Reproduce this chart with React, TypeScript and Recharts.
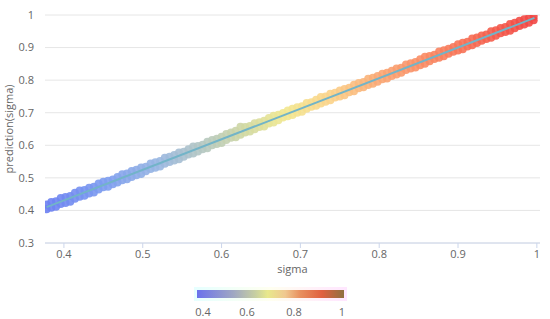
import React from 'react';
import { ScatterChart, Scatter, XAxis, YAxis, CartesianGrid } from 'recharts';

// sigma values (x)
const sigma = [
  0.378, 0.384, 0.390, 0.396, 0.402, 0.408, 0.414, 0.420, 0.426, 0.432,
  0.438, 0.444, 0.450, 0.456, 0.462, 0.468, 0.474, 0.480, 0.486, 0.492,
  0.498, 0.504, 0.510, 0.516, 0.522, 0.528, 0.534, 0.540, 0.546, 0.552,
  0.558, 0.564, 0.570, 0.576, 0.582, 0.588, 0.594, 0.600, 0.606, 0.612,
  0.618, 0.624, 0.630, 0.636, 0.642, 0.648, 0.654, 0.660, 0.666, 0.672,
  0.678, 0.684, 0.690, 0.696, 0.702, 0.708, 0.714, 0.720, 0.726, 0.732,
  0.738, 0.744, 0.750, 0.756, 0.762, 0.768, 0.774, 0.780, 0.786, 0.792,
  0.798, 0.804, 0.810, 0.816, 0.822, 0.828, 0.834, 0.840, 0.846, 0.852,
  0.858, 0.864, 0.870, 0.876, 0.882, 0.888, 0.894, 0.900, 0.906, 0.912,
  0.918, 0.924, 0.930, 0.936, 0.942, 0.948, 0.954, 0.960, 0.966, 0.972,
  0.978, 0.984, 0.990, 0.996,
];

// upper edge of the band of predictions
const predictionUpper = [
  0.418, 0.426, 0.428, 0.438, 0.441, 0.444, 0.454, 0.461, 0.463, 0.470,
  0.473, 0.483, 0.488, 0.491, 0.495, 0.503, 0.511, 0.513, 0.521, 0.525,
  0.532, 0.534, 0.544, 0.548, 0.552, 0.562, 0.565, 0.570, 0.578, 0.580,
  0.588, 0.596, 0.598, 0.602, 0.611, 0.616, 0.620, 0.626, 0.635, 0.639,
  0.645, 0.657, 0.656, 0.659, 0.668, 0.671, 0.675, 0.684, 0.691, 0.694,
  0.699, 0.707, 0.712, 0.717, 0.720, 0.730, 0.732, 0.740, 0.748, 0.750,
  0.758, 0.761, 0.768, 0.773, 0.777, 0.786, 0.791, 0.794, 0.804, 0.807,
  0.813, 0.820, 0.823, 0.829, 0.836, 0.838, 0.848, 0.852, 0.856, 0.864,
  0.872, 0.874, 0.878, 0.888, 0.892, 0.896, 0.902, 0.910, 0.915, 0.918,
  0.928, 0.931, 0.937, 0.940, 0.950, 0.953, 0.960, 0.963, 0.972, 0.976,
  0.982, 0.987, 0.992, 0.995,
];

// lower edge of the band of predictions
const predictionLower = [
  0.404, 0.408, 0.411, 0.420, 0.423, 0.427, 0.436, 0.442, 0.445, 0.452,
  0.455, 0.464, 0.471, 0.473, 0.480, 0.486, 0.493, 0.496, 0.503, 0.508,
  0.512, 0.520, 0.527, 0.531, 0.535, 0.543, 0.549, 0.553, 0.557, 0.565,
  0.572, 0.575, 0.581, 0.588, 0.591, 0.600, 0.604, 0.607, 0.616, 0.623,
  0.625, 0.632, 0.639, 0.642, 0.649, 0.656, 0.658, 0.667, 0.670, 0.677,
  0.685, 0.689, 0.693, 0.700, 0.703, 0.712, 0.718, 0.721, 0.728, 0.734,
  0.738, 0.747, 0.750, 0.754, 0.763, 0.766, 0.775, 0.778, 0.785, 0.789,
  0.795, 0.803, 0.805, 0.813, 0.817, 0.823, 0.831, 0.836, 0.839, 0.846,
  0.850, 0.858, 0.865, 0.869, 0.873, 0.881, 0.887, 0.891, 0.895, 0.903,
  0.907, 0.914, 0.921, 0.926, 0.930, 0.936, 0.944, 0.948, 0.952, 0.959,
  0.966, 0.971, 0.976, 0.984,
];

// fitted line end points
const fitSigma = [0.378, 0.997];
const fitPrediction = [0.41, 0.991];

const xTicks = [0.4, 0.5, 0.6, 0.7, 0.8, 0.9, 1];
const yTicks = [0.3, 0.4, 0.5, 0.6, 0.7, 0.8, 0.9, 1];
const colorbarLabels = ['0.4', '0.6', '0.8', '1'];

const pointStops: [number, string][] = [
  [0.376, '#6b7ff2'],
  [0.45, '#7c9cf0'],
  [0.52, '#98b6e2'],
  [0.58, '#b6c8bf'],
  [0.63, '#d0d8a2'],
  [0.68, '#f1e890'],
  [0.74, '#fbd28a'],
  [0.8, '#faa874'],
  [0.88, '#f8805e'],
  [0.95, '#f45a4a'],
  [1.0, '#f14545'],
];

function hexToRgb(h: string) {
  const n = parseInt(h.slice(1), 16);
  return [(n >> 16) & 255, (n >> 8) & 255, n & 255];
}

function colorOf(v: number) {
  if (v <= pointStops[0][0]) return pointStops[0][1];
  for (let i = 1; i < pointStops.length; i++) {
    const [b, cb] = pointStops[i];
    const [a, ca] = pointStops[i - 1];
    if (v <= b) {
      const t = (v - a) / (b - a);
      const A = hexToRgb(ca);
      const B = hexToRgb(cb);
      const c = A.map((x, k) => Math.round(x + (B[k] - x) * t));
      return `rgb(${c[0]},${c[1]},${c[2]})`;
    }
  }
  return pointStops[pointStops.length - 1][1];
}

const points = sigma.flatMap((s, i) => [
  { sigma: s, prediction: predictionLower[i] },
  { sigma: s, prediction: predictionUpper[i] },
]);

const fitLine = fitSigma.map((s, i) => ({ sigma: s, prediction: fitPrediction[i] }));

const FONT = '"Open Sans", "DejaVu Sans", sans-serif';
const tickStyle = { fontSize: 11, fill: '#666', fontFamily: FONT };

const Dot = (props: any) => {
  const { cx, cy, payload } = props;
  if (cx == null || cy == null) return <g />;
  return <circle cx={cx} cy={cy} r={4} fill={colorOf(payload.sigma)} fillOpacity={0.9} />;
};

export default function App() {
  const labelPos = [203, 247, 294, 342];
  return (
    <div style={{ position: 'absolute', left: 0, top: 0, width: 550, height: 319, background: '#fff' }}>
      <ScatterChart width={550} height={319} margin={{ top: 15, right: 10, bottom: 46, left: 0 }}>
        <CartesianGrid vertical={false} stroke="#e6e6e6" />
        <XAxis
          type="number"
          dataKey="sigma"
          domain={[0.376, 1.004]}
          ticks={xTicks}
          allowDataOverflow
          stroke="#ccd6eb"
          tick={tickStyle}
          tickSize={5}
          tickMargin={2}
          height={30}
          label={{ value: 'sigma', position: 'insideBottom', offset: 0, style: { fontSize: 11, fill: '#666', fontFamily: FONT } }}
        />
        <YAxis
          type="number"
          dataKey="prediction"
          domain={[0.3, 1]}
          ticks={yTicks}
          allowDataOverflow
          axisLine={false}
          tickLine={false}
          tick={tickStyle}
          tickMargin={5}
          width={45}
          label={{ value: 'prediction(sigma)', angle: -90, position: 'insideLeft', offset: 9, style: { textAnchor: 'middle', fontSize: 11, fill: '#666', fontFamily: FONT } }}
        />
        <Scatter data={points} shape={Dot} isAnimationActive={false} />
        <Scatter
          data={fitLine}
          line={{ stroke: '#72b4c8', strokeWidth: 2 }}
          lineType="joint"
          shape={() => <g />}
          isAnimationActive={false}
        />
      </ScatterChart>
      <div
        style={{
          position: 'absolute',
          left: 194,
          top: 287,
          width: 153,
          height: 14,
          background: 'linear-gradient(to right, #e6ffff, #fffff0 50%, #ffe6ff)',
        }}
      />
      <div
        style={{
          position: 'absolute',
          left: 197,
          top: 290,
          width: 147,
          height: 8,
          background:
            'linear-gradient(to right, #6a72ec 0%, #a0a8c2 25%, #c8d0a0 40%, #e8e88c 48%, #f0c890 60%, #e89060 70%, #e06040 85%, #8f7040 100%)',
        }}
      />
      {colorbarLabels.map((t, i) => (
        <div
          key={t}
          style={{
            position: 'absolute',
            left: labelPos[i] - 20,
            width: 40,
            top: 304,
            textAlign: 'center',
            fontSize: 11,
            color: '#666',
            fontFamily: FONT,
            lineHeight: '15px',
          }}
        >
          {t}
        </div>
      ))}
    </div>
  );
}
